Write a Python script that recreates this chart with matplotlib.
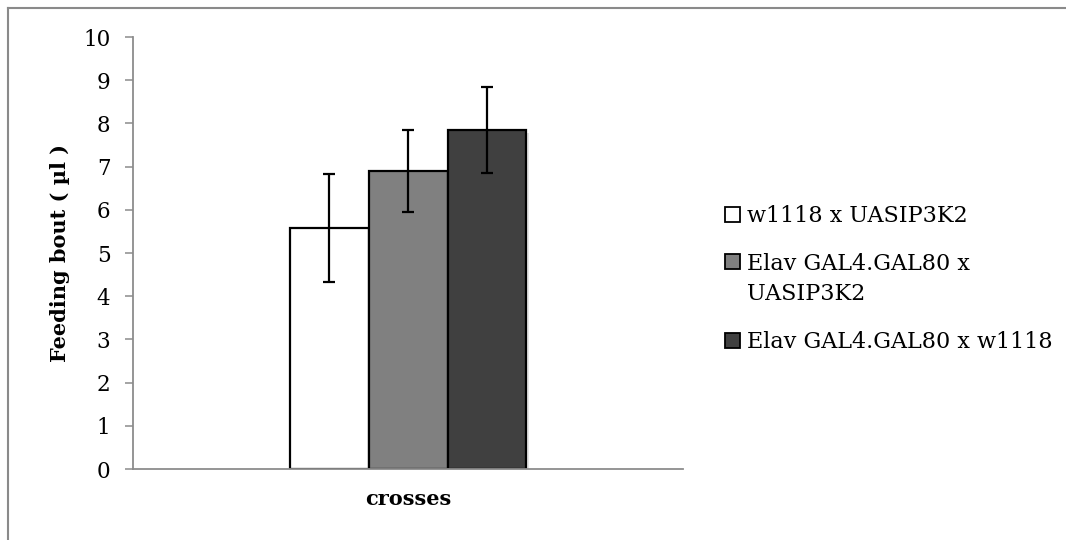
import matplotlib
matplotlib.use("Agg")
import matplotlib.pyplot as plt
from matplotlib.lines import Line2D
from matplotlib.patches import Rectangle
import matplotlib.patheffects as pe

# Feeding bout volume per genetic cross
category = "crosses"
series_labels = ["w1118 x UASIP3K2",
                 "Elav GAL4.GAL80 x\nUASIP3K2",
                 "Elav GAL4.GAL80 x w1118"]
means = [5.58, 6.89, 7.85]
errors = [1.25, 0.95, 1.00]
colors = ["#ffffff", "#808080", "#404040"]
y_ticks = [0, 1, 2, 3, 4, 5, 6, 7, 8, 9, 10]

W, H = 1066, 540
DPI = 100
plt.rcParams["font.family"] = ["DejaVu Serif"]

fig = plt.figure(figsize=(W / DPI, H / DPI), dpi=DPI)
ax = fig.add_axes([133.3 / W, 1 - 469 / H, (683 - 133.3) / W, (469 - 37) / H])

offsets = [-1, 0, 1]
shadow = [pe.SimplePatchShadow(offset=(2, -2), shadow_rgbFace="#b0b0b0", alpha=0.35), pe.Normal()]
for off, m, e, c in zip(offsets, means, errors, colors):
    ax.bar(off, m, width=1.0, color=c, edgecolor="black", linewidth=1.6,
           zorder=2, path_effects=shadow)
    ax.errorbar(off, m, yerr=e, fmt="none", ecolor="black", elinewidth=1.6,
                capsize=4.0, capthick=1.6, zorder=3)

ax.set_xlim(-3.49, 3.49)
ax.set_ylim(0, 10)
ax.set_yticks(y_ticks)
ax.set_xticks([])
for s in ("top", "right"):
    ax.spines[s].set_visible(False)
for s in ("left", "bottom"):
    ax.spines[s].set_color("#8c8c8c")
    ax.spines[s].set_linewidth(1.3)
ax.tick_params(axis="y", direction="out", length=5.5, width=1.1, color="#8c8c8c",
               labelsize=15.5, pad=11)

fig.text(60 / W, 1 - 253 / H, "Feeding bout ( µl )", rotation=90, fontsize=15,
         fontweight="bold", ha="center", va="center")
fig.text(408 / W, 1 - 499 / H, category, fontsize=15, fontweight="bold",
         ha="center", va="center")

# legend: square swatch beside the first line of each label
y = 214.0
for lab, c in zip(series_labels, colors):
    fig.add_artist(Rectangle((725 / W, 1 - (y + 7.5) / H), 15 / W, 15 / H,
                             transform=fig.transFigure, facecolor=c,
                             edgecolor="black", linewidth=1.3))
    fig.text(747 / W, 1 - (y - 8.8) / H, lab, fontsize=16, ha="left",
             va="top", linespacing=1.47)
    y += (lab.count("\n")) * 30 + 48

# chart frame edges
fig.add_artist(Line2D([7.5 / W, 1.01], [1 - 7.5 / H] * 2, transform=fig.transFigure,
                      color="#8a8a8a", linewidth=1.5))
fig.add_artist(Line2D([7.5 / W] * 2, [-0.01, 1 - 7.5 / H], transform=fig.transFigure,
                      color="#8a8a8a", linewidth=1.5))

fig.savefig("out.png", dpi=DPI)
